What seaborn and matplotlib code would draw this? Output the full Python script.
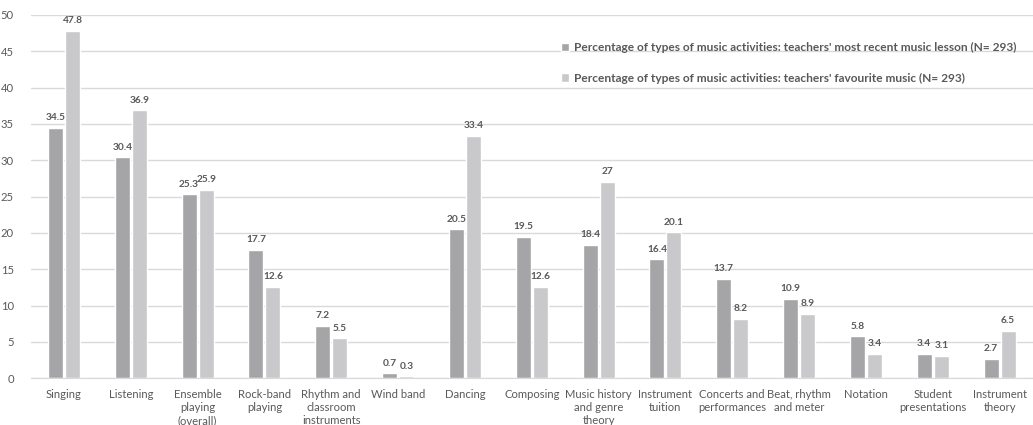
import pandas as pd
import matplotlib.pyplot as plt
import seaborn as sns

# данные
categories = ["Singing", "Listening", "Ensemble\nplaying\n(overall)", "Rock-band\nplaying",
              "Rhythm and\nclassroom\ninstruments", "Wind band", "Dancing", "Composing",
              "Music history\nand genre\ntheory", "Instrument\ntuition", "Concerts and\nperformances",
              "Beat, rhythm\nand meter", "Notation", "Student\npresentations", "Instrument\ntheory"]
recentLesson = [34.5, 30.4, 25.3, 17.7, 7.2, 0.7, 20.5, 19.5, 18.4, 16.4, 13.7, 10.9, 5.8, 3.4, 2.7]
favouriteMusic = [47.8, 36.9, 25.9, 12.6, 5.5, 0.3, 33.4, 12.6, 27, 20.1, 8.2, 8.9, 3.4, 3.1, 6.5]
seriesNames = ["Percentage of types of music activities: teachers' most recent music lesson (N= 293)",
               "Percentage of types of music activities: teachers' favourite music (N= 293)"]
yTicks = [0, 5, 10, 15, 20, 25, 30, 35, 40, 45, 50]

dataSet = pd.DataFrame({
    "Activity": categories * 2,
    "Value": recentLesson + favouriteMusic,
    "Series": [seriesNames[0]] * len(categories) + [seriesNames[1]] * len(categories),
})

sns.set_style("white")
plt.rcParams['font.family'] = ['Lato', 'DejaVu Sans']
textColor = "#595959"

fig = plt.figure(figsize=(10.33, 4.25), dpi=100)
ax = fig.add_axes([0.0296, 0.11, 0.9704, 0.855])

sns.barplot(data=dataSet, x="Activity", y="Value", hue="Series",
            palette=["#a5a5a7", "#c9c9cb"], width=0.51, gap=0.12,
            saturation=1, ax=ax, zorder=2)

for container in ax.containers:
    ax.bar_label(container, labels=[f"{v:g}" for v in container.datavalues],
                 padding=4, fontsize=7.3, fontweight="bold", color=textColor)

ax.set_ylim(0, 50)
ax.set_yticks(yTicks)
ax.set_xlim(-0.5, len(categories) - 0.5)
ax.yaxis.grid(True, color="#d9d9d9", linewidth=1, zorder=0)
ax.set_axisbelow(True)
for side in ["top", "right", "left"]:
    ax.spines[side].set_visible(False)
ax.spines["bottom"].set_color("#d9d9d9")
ax.tick_params(axis="both", length=0, colors=textColor, labelsize=8.1)
ax.tick_params(axis="x", pad=8)
ax.tick_params(axis="y", pad=12)
ax.set_xlabel("")
ax.set_ylabel("")

leg = ax.legend(loc="upper left", bbox_to_anchor=(0.518, 0.955), frameon=False,
                handlelength=0.7, handleheight=0.7, handletextpad=0.45,
                labelspacing=1.65, fontsize=8.6)
for t in leg.get_texts():
    t.set_color(textColor)
    t.set_fontweight("bold")

plt.savefig("out.png", dpi=100)
